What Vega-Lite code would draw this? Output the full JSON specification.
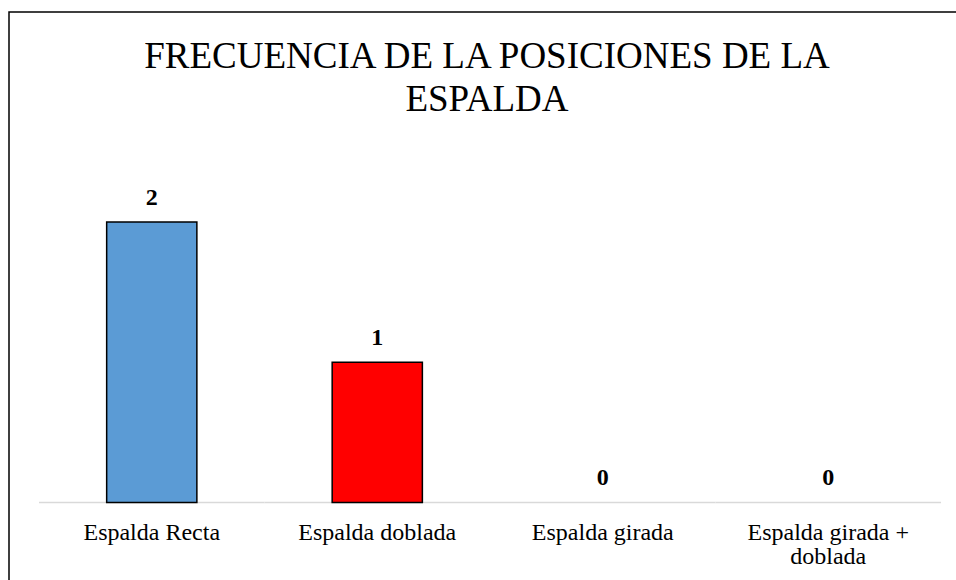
{
  "$schema": "https://vega.github.io/schema/vega-lite/v6.json",
  "autosize": {"type": "none"},
  "padding": {"left": 9, "top": 12, "right": 0, "bottom": 0},
  "width": 956,
  "height": 600,
  "background": "white",
  "config": {
    "view": {"stroke": "#000000", "strokeWidth": 1.5},
    "font": "Liberation Serif"
  },
  "title": {
    "text": ["FRECUENCIA DE LA POSICIONES DE LA", "ESPALDA"],
    "font": "Liberation Serif",
    "fontSize": 37,
    "fontWeight": "normal",
    "color": "#000000",
    "lineHeight": 43,
    "baseline": "top",
    "offset": -107,
    "anchor": "middle",
    "frame": "group"
  },
  "data": {
    "values": [
      {"posicion": "Espalda Recta", "frecuencia": 2},
      {"posicion": "Espalda doblada", "frecuencia": 1},
      {"posicion": "Espalda girada", "frecuencia": 0},
      {"posicion": "Espalda girada + doblada", "frecuencia": 0}
    ]
  },
  "encoding": {
    "x": {
      "field": "posicion",
      "type": "nominal",
      "sort": null,
      "scale": {"paddingInner": 0, "paddingOuter": 0.1197, "align": 0.556},
      "axis": {
        "title": null,
        "orient": "bottom",
        "offset": -109.5,
        "domain": false,
        "ticks": false,
        "tickSize": 0,
        "grid": false,
        "labelAngle": 0,
        "labelFont": "Liberation Serif",
        "labelFontSize": 24,
        "labelColor": "#000000",
        "labelPadding": 18,
        "labelLineHeight": 24,
        "labelLimit": 0,
        "labelOverlap": false,
        "labelExpr": "datum.label == 'Espalda girada + doblada' ? ['Espalda girada +', 'doblada'] : datum.label"
      }
    }
  },
  "layer": [
    {
      "mark": {"type": "bar", "fillOpacity": 0, "stroke": "#d9d9d9", "strokeWidth": 1.5, "width": {"band": 1}},
      "encoding": {
        "y": {"datum": 0, "type": "quantitative", "scale": {"domain": [-0.781, 3.497], "nice": false, "zero": false}, "axis": null},
        "y2": {"datum": 0}
      }
    },
    {
      "transform": [{"filter": "datum.frecuencia > 0"}],
      "mark": {"type": "bar", "width": {"band": 0.4}, "stroke": "#000000", "strokeWidth": 1.5},
      "encoding": {
        "y": {"field": "frecuencia", "type": "quantitative", "scale": {"domain": [-0.781, 3.497], "nice": false, "zero": false}, "axis": null},
        "color": {
          "field": "posicion",
          "type": "nominal",
          "scale": {"domain": ["Espalda Recta", "Espalda doblada"], "range": ["#5B9BD5", "#FF0000"]},
          "legend": null
        }
      }
    },
    {
      "mark": {"type": "text", "font": "Liberation Serif", "fontSize": 24, "fontWeight": "bold", "baseline": "alphabetic", "dy": -17, "color": "#000000"},
      "encoding": {
        "y": {"field": "frecuencia", "type": "quantitative", "axis": null},
        "text": {"field": "frecuencia", "type": "quantitative"}
      }
    }
  ]
}
